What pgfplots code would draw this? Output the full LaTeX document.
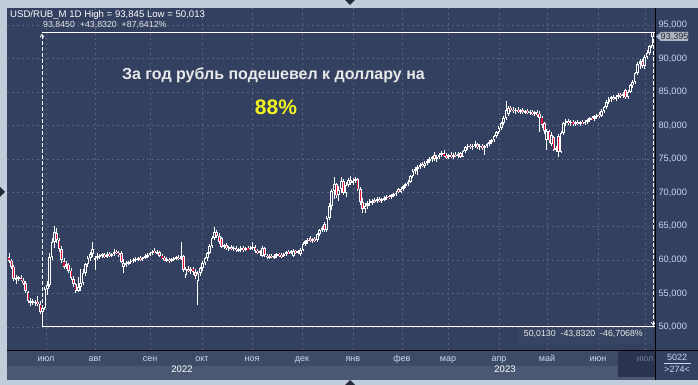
\documentclass[border=0pt]{standalone}
\usepackage{fontspec}
\setmainfont{Liberation Sans}
\usepackage{pgfplots}
\pgfplotsset{compat=1.18}
\usepackage{pgfplotstable}
\usetikzlibrary{arrows.meta}
\definecolor{framec}{HTML}{C2CDDB}
\definecolor{plotbg}{HTML}{334060}
\definecolor{gridc}{HTML}{56627E}
\definecolor{monthbg}{HTML}{3D4B67}
\definecolor{yearbg}{HTML}{4A5874}
\definecolor{futurebg}{HTML}{2A3450}
\definecolor{lbl}{HTML}{C8D8EE}
\definecolor{candred}{HTML}{E0103A}
\definecolor{titlec}{HTML}{E8E8E8}
\definecolor{yel}{HTML}{F2F21E}
\definecolor{fadec}{HTML}{6A7896}
\definecolor{boxc}{HTML}{384562}
\definecolor{tagc}{HTML}{AEB8C6}
\definecolor{tric}{HTML}{222A3A}
\pgfplotstableread{
i o h l c
0 60.4 61.0 59.6 59.9
1 59.9 60.2 58.6 59.0
2 59.0 59.3 56.9 57.2
3 57.0 57.8 56.4 57.3
4 57.1 57.6 56.8 57.4
5 57.3 57.7 56.9 57.0
6 56.9 57.3 56.2 56.6
7 56.5 56.8 55.0 55.4
8 55.2 55.4 53.6 53.9
9 53.6 54.3 53.2 53.9
10 53.5 54.1 53.3 53.8
11 53.6 54.0 53.2 53.7
12 53.7 54.6 53.1 53.5
13 53.4 53.8 52.0 52.3
14 52.3 53.3 50.02 52.8
15 52.8 56.0 52.5 55.6
16 55.6 56.8 54.8 56.2
17 56.3 61.0 56.0 60.5
18 60.5 63.2 60.0 62.6
19 62.6 65.0 61.8 64.2
20 64.0 64.8 62.5 63.0
21 63.0 63.3 61.2 61.6
22 61.6 62.0 59.5 60.0
23 59.8 60.3 58.6 59.0
24 59.0 59.8 58.6 59.4
25 59.3 59.5 58.1 58.4
26 58.4 58.8 57.0 57.3
27 57.2 57.6 56.0 56.4
28 56.4 56.6 55.0 55.4
29 55.4 57.5 55.2 56.0
30 55.9 58.7 55.3 56.5
31 56.5 58.6 56.2 58.0
32 58.0 59.6 57.6 59.4
33 59.4 60.6 59.0 60.3
34 60.3 61.2 59.8 60.9
35 60.9 62.7 60.5 61.6
36 60.0 60.6 58.5 60.3
37 60.3 61.0 60.0 60.6
38 60.6 60.9 60.2 60.7
39 60.6 61.0 60.3 60.8
40 60.8 61.0 60.3 60.5
41 60.5 61.1 60.3 60.9
42 60.8 61.2 60.5 60.7
43 60.6 61.0 60.4 60.9
44 60.9 61.6 60.6 61.2
45 61.2 61.5 60.8 61.0
46 61.0 61.3 60.5 60.8
47 61.0 61.3 59.5 59.7
48 59.0 60.2 58.0 59.5
49 59.3 59.8 58.9 59.6
50 59.5 59.9 59.2 59.7
51 59.7 60.1 59.4 59.9
52 59.9 60.3 59.6 60.0
53 60.0 60.4 59.7 60.2
54 60.1 60.5 59.8 60.3
55 60.3 60.6 59.9 60.1
56 60.1 60.5 59.9 60.4
57 60.4 60.8 60.2 60.6
58 60.5 61.0 60.3 60.8
59 60.8 61.2 60.6 61.0
60 61.0 61.5 60.7 61.2
61 61.3 61.8 61.0 61.1
62 60.9 61.4 60.8 61.1
63 61.1 61.3 60.4 60.6
64 60.6 60.9 60.2 60.4
65 60.3 60.6 59.8 60.0
66 60.0 60.4 59.7 60.1
67 60.0 60.3 59.6 59.9
68 59.9 60.3 59.7 60.1
69 60.1 60.5 59.9 60.3
70 60.2 60.6 60.0 60.4
71 60.3 60.7 60.0 60.2
72 60.2 62.7 60.0 60.6
73 60.6 60.8 58.2 58.5
74 57.8 59.0 57.3 58.6
75 58.6 59.1 58.2 58.4
76 58.4 58.9 57.9 58.7
77 58.7 59.0 57.8 58.2
78 58.2 58.6 57.2 57.6
79 56.9 58.4 53.3 58.0
80 58.0 59.0 57.6 58.8
81 58.8 59.8 58.4 59.5
82 59.5 60.5 59.2 60.3
83 60.3 61.2 59.9 61.0
84 61.0 62.3 60.8 62.0
85 62.0 63.6 61.8 63.3
86 63.3 64.9 63.0 64.2
87 64.2 64.5 63.2 63.6
88 63.6 64.0 62.4 62.7
89 63.2 63.4 61.7 61.9
90 61.9 62.4 61.6 62.2
91 62.2 62.5 61.5 61.7
92 61.7 62.1 61.3 61.9
93 61.9 62.2 61.4 61.6
94 61.6 62.0 61.3 61.8
95 61.8 62.1 61.1 61.4
96 61.4 61.8 61.1 61.6
97 61.5 62.0 61.2 61.8
98 61.8 62.1 61.2 61.5
99 61.5 61.9 61.3 61.7
100 61.7 62.0 61.4 61.6
101 61.6 62.0 61.4 61.8
102 61.8 62.7 61.5 61.9
103 61.9 62.2 61.0 61.3
104 61.3 61.6 60.8 61.1
105 61.1 61.4 60.6 61.2
106 60.6 62.0 60.4 61.8
107 61.8 61.9 60.5 60.8
108 60.6 60.9 60.2 60.5
109 60.4 60.8 60.2 60.6
110 60.6 60.9 60.3 60.5
111 60.4 60.8 60.2 60.6
112 60.6 61.0 60.3 60.8
113 60.8 61.0 60.5 60.7
114 60.7 61.0 60.3 60.6
115 60.6 61.0 60.4 60.9
116 60.9 61.3 60.6 61.1
117 61.1 61.4 60.8 61.0
118 61.0 61.5 60.8 61.3
119 60.6 61.6 60.5 61.3
120 61.3 61.5 60.9 61.1
121 61.1 61.4 60.8 61.2
122 60.8 61.7 60.6 61.5
123 61.5 62.7 61.3 62.4
124 62.4 63.0 62.0 62.8
125 62.8 63.3 62.4 63.0
126 63.2 63.5 62.6 62.8
127 62.8 63.3 62.5 63.1
128 63.1 63.4 62.7 62.9
129 62.9 64.0 62.7 63.8
130 63.8 64.6 63.6 64.4
131 64.4 65.1 64.1 64.8
132 65.3 65.6 64.1 64.4
133 64.4 66.5 64.2 66.2
134 66.2 68.5 65.9 68.0
135 68.0 70.5 67.5 70.2
136 70.2 72.3 69.0 71.3
137 71.3 71.5 69.2 69.6
138 69.6 71.0 68.8 70.4
139 70.5 72.3 70.0 71.8
140 71.8 72.0 69.6 70.0
141 70.0 71.6 69.4 71.2
142 71.2 72.2 70.8 71.9
143 71.9 72.5 71.2 71.5
144 71.5 72.2 71.1 71.8
145 71.8 72.4 71.4 72.1
146 72.0 72.2 70.2 70.5
147 70.5 70.8 68.2 68.6
148 68.6 69.2 67.0 67.6
149 67.6 68.4 67.0 68.1
150 68.1 68.7 67.6 68.4
151 68.4 69.0 68.0 68.7
152 68.5 69.0 68.2 68.8
153 68.8 69.2 68.4 68.7
154 68.7 69.3 68.5 69.0
155 69.0 69.4 68.6 68.8
156 68.8 69.2 68.5 69.0
157 69.0 69.5 68.7 69.2
158 69.2 69.6 68.9 69.4
159 69.4 69.7 69.0 69.3
160 69.3 69.8 69.1 69.6
161 69.6 70.0 69.3 69.8
162 69.8 70.3 69.5 70.0
163 70.5 70.7 69.9 70.1
164 70.1 70.8 69.9 70.6
165 70.6 71.2 70.3 71.0
166 71.0 71.5 70.7 71.3
167 71.3 71.9 71.0 71.6
168 71.6 72.7 71.4 72.5
169 72.5 73.6 72.2 73.3
170 73.3 73.8 72.8 73.5
171 73.5 74.2 72.6 73.9
172 73.9 74.5 73.5 74.2
173 74.3 74.6 73.8 74.0
174 74.0 74.7 73.7 74.5
175 74.5 75.0 74.2 74.8
176 74.8 75.3 74.5 75.0
177 75.0 75.5 74.6 75.3
178 75.6 76.1 74.8 75.0
179 75.0 75.6 74.6 75.3
180 75.3 75.9 75.0 75.6
181 75.6 76.2 75.3 75.9
182 75.9 76.3 75.3 75.5
183 75.5 75.9 75.0 75.3
184 75.3 75.8 75.0 75.6
185 75.6 76.0 75.2 75.4
186 75.4 75.9 75.0 75.7
187 75.7 76.0 75.3 75.5
188 75.5 76.0 75.2 75.8
189 75.9 76.1 75.2 75.4
190 75.4 76.4 75.3 76.2
191 76.2 77.0 75.9 76.8
192 76.8 77.2 76.4 77.0
193 77.0 77.3 76.5 76.8
194 76.8 77.2 76.4 77.0
195 77.0 77.7 76.7 77.2
196 77.2 77.4 76.5 76.8
197 76.8 77.2 76.4 77.0
198 77.0 77.3 76.4 76.7
199 76.7 77.1 75.6 76.9
200 76.9 77.4 76.6 77.2
201 77.2 77.8 76.9 77.6
202 77.6 78.0 77.2 77.8
203 77.8 78.6 77.5 78.4
204 78.4 79.2 78.1 79.0
205 79.0 79.9 78.7 79.7
206 79.7 80.6 79.4 80.4
207 80.4 81.5 80.1 81.2
208 81.2 83.6 80.9 82.4
209 81.8 82.9 81.5 82.6
210 82.6 83.0 82.1 82.4
211 82.4 82.8 81.9 82.2
212 82.2 82.7 81.8 82.4
213 82.4 82.8 81.9 82.1
214 82.1 82.5 81.7 82.3
215 82.3 82.6 81.8 82.0
216 82.0 82.4 81.7 82.2
217 82.2 82.5 81.7 81.9
218 81.9 82.3 81.6 82.1
219 82.1 82.4 81.6 81.8
220 81.8 82.2 81.5 82.0
221 82.0 82.3 81.3 81.6
222 81.8 82.2 79.0 81.2
223 81.2 81.4 79.6 80.1
224 80.4 80.6 78.8 79.2
225 77.8 79.5 76.4 79.2
226 79.2 79.4 77.4 77.8
227 77.2 79.0 76.9 78.6
228 78.3 78.5 76.2 76.4
229 76.4 77.0 76.0 76.6
230 78.5 78.7 75.3 76.1
231 76.1 79.2 75.9 78.9
232 78.9 80.6 78.6 80.4
233 80.4 81.0 80.0 80.7
234 80.7 81.0 80.1 80.4
235 80.4 80.8 80.0 80.6
236 80.6 80.9 80.0 80.3
237 80.3 80.7 80.0 80.5
238 80.5 80.8 80.1 80.3
239 80.3 80.7 80.0 80.5
240 80.5 80.9 80.2 80.4
241 80.4 80.8 80.1 80.6
242 80.6 81.0 80.3 80.8
243 80.8 81.3 80.5 81.1
244 81.1 81.5 80.8 81.0
245 81.0 81.6 80.7 81.4
246 81.4 81.8 81.0 81.6
247 81.6 82.0 81.2 81.5
248 81.5 82.5 81.3 82.2
249 82.2 83.0 81.9 82.8
250 82.8 83.8 82.5 83.5
251 83.5 84.2 83.2 83.9
252 83.9 84.4 83.5 84.2
253 84.2 84.6 83.8 84.0
254 84.0 84.5 83.7 84.3
255 84.3 84.8 84.0 84.6
256 84.6 84.9 84.1 84.4
257 84.4 85.0 84.1 84.7
258 85.3 85.5 84.0 84.2
259 84.2 85.3 83.9 85.0
260 85.0 86.2 84.8 86.0
261 86.0 86.8 85.6 86.5
262 86.5 88.0 86.2 87.8
263 87.8 89.5 87.5 89.2
264 89.2 90.0 88.4 89.6
265 89.6 89.9 88.6 88.9
266 88.9 90.6 88.5 90.3
267 90.3 91.2 89.9 90.8
268 90.8 92.0 90.5 91.8
269 91.8 93.845 91.5 93.395
}\ohlc
\begin{document}
\begin{tikzpicture}
\useasboundingbox (0,0) rectangle (698pt,385pt);
\fill[framec] (0,0) rectangle (698pt,385pt);
\fill[plotbg] (7pt,35pt) rectangle (655pt,377pt);
\fill[plotbg] (655pt,5pt) rectangle (698pt,377pt);
\fill[monthbg] (7pt,19pt) rectangle (655pt,35pt);
\fill[yearbg] (7pt,5pt) rectangle (655pt,19pt);
\fill[futurebg] (618pt,8pt) rectangle (655pt,34pt);
\fill[boxc] (518pt,41pt) rectangle (653pt,57pt);
\begin{axis}[
  at={(7pt,35pt)}, anchor=south west, scale only axis,
  width=648pt, height=342pt,
  xmin=-0.84, xmax=270.3, ymin=46.57, ymax=97.53,
  axis line style={draw=none}, major tick length=0pt, tick style={draw=none},
  ytick={50,55,60,65,70,75,80,85,90,95},
  yticklabels={{50,000},{55,000},{60,000},{65,000},{70,000},{75,000},{80,000},{85,000},{90,000},{95,000}},
  yticklabel pos=right,
  yticklabel style={font=\fontsize{9.3}{11}\selectfont, text=lbl, anchor=west},
  xtick={15.5,36,59,80.75,101.7,122.6,143.9,164.4,183.7,205,225.1,246.4,266.1},
  xticklabels={июл,авг,сен,окт,ноя,дек,янв,фев,мар,апр,май,июн,\textcolor{fadec}{июл}},
  xticklabel style={font=\fontsize{9}{11}\selectfont, text=lbl, anchor=base, yshift=-12pt},
  xmajorgrids, ymajorgrids,
  grid style={gridc, dash pattern=on 2pt off 3pt, line width=0.6pt},
]
% measurement annotation
\draw[white, line width=0.9pt] (axis cs:13.8,93.845) -- (axis cs:270.3,93.845);
\draw[white, line width=0.9pt] (axis cs:13.8,50.013) -- (axis cs:270.3,50.013);
\draw[white, line width=0.8pt, dash pattern=on 4pt off 2pt, -{Straight Barb[length=3pt,width=4pt]}] (axis cs:13.8,50.013) -- (axis cs:13.8,93.7);
\draw[white, line width=0.8pt, dash pattern=on 4pt off 2pt, -{Straight Barb[length=3pt,width=4pt]}] (axis cs:269.6,93.845) -- (axis cs:269.6,50.15);
% wicks
\addplot[draw=none, mark=none, forget plot,
  error bars/.cd, y dir=both, y explicit, error mark=none,
  error bar style={draw=white, line width=0.9pt, solid}]
  table[x=i, y expr={(\thisrow{h}+\thisrow{l})/2}, y error expr={(\thisrow{h}-\thisrow{l})/2}] {\ohlc};
% bodies
\addplot[draw=none, mark=none, forget plot,
  error bars/.cd, y dir=both, y explicit, error mark=none,
  error bar style={draw=white, line width=2.6pt, solid}]
  table[x=i, y expr={(\thisrow{o}+\thisrow{c})/2}, y error expr={max(abs(\thisrow{c}-\thisrow{o})/2,0.1)}] {\ohlc};
% hollow up bodies
\addplot[draw=none, mark=none, forget plot,
  restrict expr to domain={\thisrow{c}-\thisrow{o}}{0.45:1000},
  error bars/.cd, y dir=both, y explicit, error mark=none,
  error bar style={draw=plotbg, line width=0.9pt, solid}]
  table[x=i, y expr={(\thisrow{o}+\thisrow{c})/2}, y error expr={abs(\thisrow{c}-\thisrow{o})/2-0.15}] {\ohlc};
% red down bodies
\addplot[draw=none, mark=none, forget plot,
  restrict expr to domain={\thisrow{o}-\thisrow{c}}{0.0001:1000},
  error bars/.cd, y dir=both, y explicit, error mark=none,
  error bar style={draw=candred, line width=1.1pt, solid}]
  table[x=i, y expr={(\thisrow{o}+\thisrow{c})/2}, y error expr={max(abs(\thisrow{c}-\thisrow{o})/2-0.13,0.06)}] {\ohlc};
\end{axis}
% frame lines
\draw[black, line width=0.8pt] (7pt,35pt) -- (698pt,35pt);
\draw[black, line width=0.8pt] (655pt,5pt) -- (655pt,377pt);
% texts
\node[anchor=base west, inner sep=0, text=white, font=\fontsize{9.6}{11}\selectfont] at (10pt,367.5pt) {USD/RUB\_M 1D High = 93,845 Low = 50,013};
\node[anchor=base west, inner sep=0, text=titlec, font=\fontsize{8.8}{10}\selectfont] at (43pt,357pt) {93,8450\ \ +43,8320\ \ +87,6412\%};
\node[anchor=base east, inner sep=0, text=titlec, font=\fontsize{8.8}{10}\selectfont] at (643pt,48pt) {50,0130\ \ -43,8320\ \ -46,7068\%};
\node[anchor=base, inner sep=0, text=titlec, font=\bfseries\fontsize{16}{18}\selectfont] at (273.5pt,305pt) {За год рубль подешевел к доллару на};
\node[anchor=base, inner sep=0, text=yel, font=\bfseries\fontsize{21}{24}\selectfont] at (276pt,270pt) {88\%};
% price tag
\fill[tagc] (656pt,348.5pt) -- (661pt,353pt) -- (688pt,353pt) -- (688pt,344pt) -- (661pt,344pt) -- cycle;
\node[anchor=center, inner sep=0, text=black!85, font=\fontsize{9}{10}\selectfont] at (674.5pt,348.5pt) {93,395};
% year labels
\node[anchor=base, inner sep=0, text=white, font=\fontsize{9.5}{11}\selectfont] at (182pt,12pt) {2022};
\node[anchor=base, inner sep=0, text=white, font=\fontsize{9.5}{11}\selectfont] at (505pt,12pt) {2023};
% bottom-right box
\node[anchor=base, inner sep=0, text=lbl, font=\fontsize{9}{10}\selectfont] at (677pt,24pt) {5022};
\draw[lbl, line width=0.6pt] (664pt,21.5pt) -- (691pt,21.5pt);
\node[anchor=base, inner sep=0, text=lbl, font=\fontsize{9}{10}\selectfont] at (677pt,12pt) {>274<};
% UI triangles
\fill[tric] (345pt,385pt) -- (355pt,385pt) -- (350pt,380pt) -- cycle;
\fill[tric] (345pt,0pt) -- (355pt,0pt) -- (350pt,5pt) -- cycle;
\fill[tric] (0pt,198pt) -- (0pt,188pt) -- (5pt,193pt) -- cycle;
\end{tikzpicture}
\end{document}
